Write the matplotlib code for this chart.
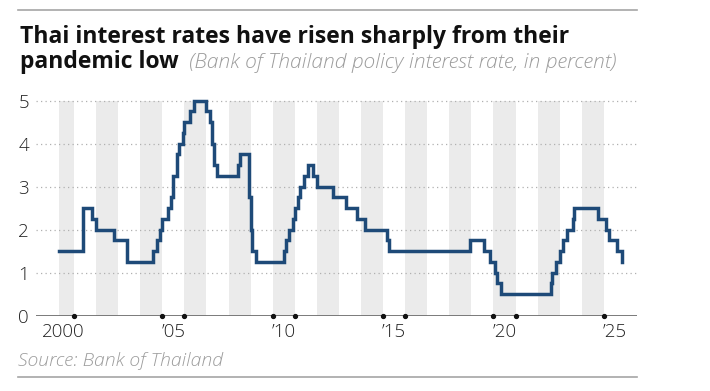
import matplotlib
matplotlib.use("Agg")
import matplotlib.pyplot as plt
from matplotlib.lines import Line2D

# Bank of Thailand policy rate: month of each change and the rate after it
change_year = [2000, 2001, 2001, 2002, 2002, 2003, 2004, 2004, 2004, 2005,
               2005, 2005, 2005, 2005, 2005, 2005, 2006, 2006, 2006, 2007,
               2007, 2007, 2007, 2007, 2008, 2008, 2008, 2009, 2009, 2009,
               2010, 2010, 2010, 2010, 2011, 2011, 2011, 2011, 2011, 2011,
               2012, 2012, 2013, 2013, 2014, 2015, 2015, 2018, 2019, 2019,
               2020, 2020, 2020, 2022, 2022, 2022, 2023, 2023, 2023, 2023,
               2023, 2024, 2025, 2025, 2025, 2025]
change_month = [5, 6, 11, 1, 11, 6, 8, 10, 12, 1,
                4, 6, 7, 9, 10, 12, 1, 4, 6, 1,
                3, 4, 5, 7, 6, 7, 12, 1, 2, 4,
                7, 8, 10, 12, 1, 3, 4, 6, 8, 11,
                1, 10, 5, 11, 3, 3, 4, 12, 8, 11,
                2, 3, 5, 8, 9, 11, 1, 3, 5, 8,
                9, 10, 2, 4, 8, 11]
rate = [1.50, 2.50, 2.25, 2.00, 1.75, 1.25, 1.50, 1.75, 2.00, 2.25,
        2.50, 2.75, 3.25, 3.75, 4.00, 4.25, 4.50, 4.75, 5.00, 4.75,
        4.50, 4.00, 3.50, 3.25, 3.50, 3.75, 2.75, 2.00, 1.50, 1.25,
        1.50, 1.75, 2.00, 2.25, 2.50, 2.75, 3.00, 3.25, 3.50, 3.25,
        3.00, 2.75, 2.50, 2.25, 2.00, 1.75, 1.50, 1.75, 1.50, 1.25,
        1.00, 0.75, 0.50, 0.75, 1.00, 1.25, 1.50, 1.75, 2.00, 2.25,
        2.50, 2.25, 2.00, 1.75, 1.50, 1.25]

tick_years = [2000, 2005, 2010, 2015, 2020, 2025]
tick_labels = ["2000", "\u201905", "\u201910", "\u201915", "\u201920", "\u201925"]
dot_years = [2001, 2005, 2006, 2010, 2011, 2015, 2016, 2020, 2021, 2025]
shaded_years = list(range(2000, 2025, 2))
y_ticks = [0, 1, 2, 3, 4, 5]

W, H = 710, 391
plt.rcParams["font.family"] = ["Open Sans", "DejaVu Sans"]

x = [y + (m - 1) / 12 for y, m in zip(change_year, change_month)]

fig = plt.figure(figsize=(W / 100, H / 100), dpi=100)
ax = fig.add_axes([36 / W, (H - 315.7) / H, 601 / W, 43 * 5.05 / H])
ax.set_xlim(1999.28, 2026.5)
ax.set_ylim(0, 5.05)

# alternating year shading, starting where the series starts
for yr in shaded_years:
    ax.fill_between([max(yr, x[0]), yr + 1], 0, 5, color="#ebebeb", lw=0, zorder=0)

for v in y_ticks[1:]:
    ax.axhline(v, color="#b0b0b0", lw=0.9, ls=(0, (1, 2.6)), zorder=1)
ax.axhline(0, color="#707070", lw=1.3, zorder=2)

ax.step(x, rate, where="post", color="#1e4a78", lw=2.5, zorder=3,
        solid_joinstyle="miter")
ax.plot(dot_years, [0] * len(dot_years), "o", ms=2.8, color="#111111",
        zorder=4, clip_on=False)

for s in ax.spines.values():
    s.set_visible(False)
ax.set_xticks([y + 0.5 for y in tick_years], tick_labels)
ax.set_yticks(y_ticks, [str(v) for v in y_ticks])
ax.tick_params(axis="x", length=0, pad=5, labelsize=13.5, labelcolor="#222222")
ax.tick_params(axis="y", length=0, pad=5, labelsize=13.5, labelcolor="#222222")
for lab in ax.get_xticklabels() + ax.get_yticklabels():
    lab.set_fontweight(300)


def fit(txt, width):
    # scale a text so it spans the given pixel width
    fig.canvas.draw()
    w = txt.get_window_extent().width
    txt.set_fontsize(txt.get_fontsize() * width / w)


t1 = fig.text(20 / W, 1 - 43 / H, "Thai interest rates have risen sharply from their",
              fontsize=15, fontweight="bold", color="#111111", va="baseline")
fit(t1, 550)
t2 = fig.text(20 / W, 1 - 68 / H, "pandemic low", fontsize=t1.get_fontsize(),
              fontweight="bold", color="#111111", va="baseline")
fig.canvas.draw()
bb = t2.get_window_extent()
t3 = fig.text((bb.x1 + 10) / W, 1 - 68 / H,
              "(Bank of Thailand policy interest rate, in percent)",
              fontsize=12, fontstyle="italic", fontweight=300,
              color="#9c9c9c", va="baseline")
fit(t3, 615 - bb.x1 - 10)
t4 = fig.text(18 / W, 1 - 366 / H, "Source: Bank of Thailand", fontsize=11,
              fontstyle="italic", fontweight=300, color="#9c9c9c", va="baseline")
fit(t4, 205)

for yy in (10, 377):
    fig.add_artist(Line2D([18 / W, 637 / W], [1 - yy / H, 1 - yy / H],
                          color="#a5a5a5", lw=1.2))

fig.savefig("out.png", dpi=100)
